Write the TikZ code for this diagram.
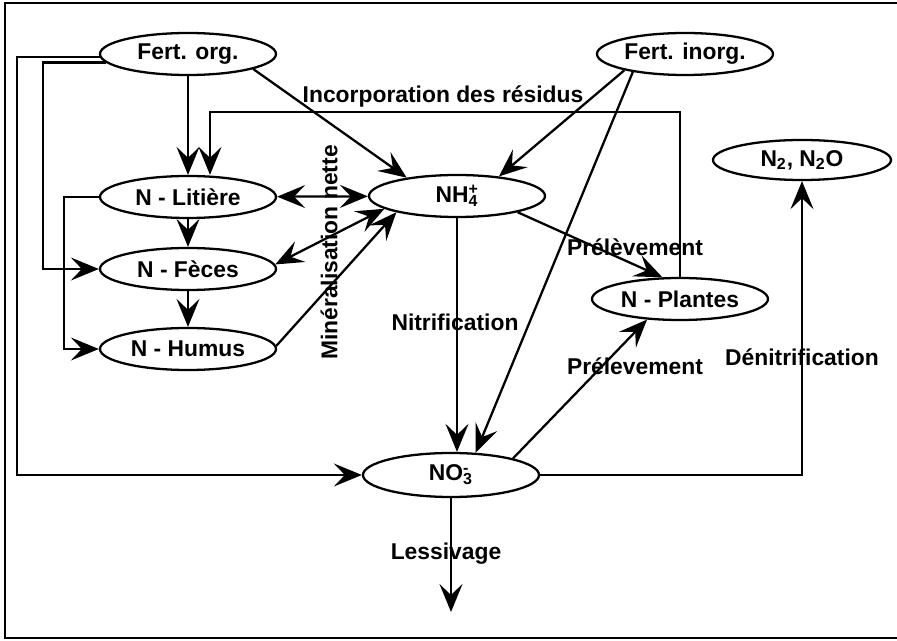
\documentclass[tikz,border=0pt]{standalone}
\usepackage{fontspec}
\setmainfont{Liberation Sans}
\usetikzlibrary{shapes.geometric,arrows.meta}
\newcommand\ionNH{NH\rlap{\textsuperscript{+}}\textsubscript{4}}
\newcommand\ionNO{NO\rlap{\textsuperscript{-}}\textsubscript{3}}
\begin{document}
\begin{tikzpicture}[line width=1.3pt,
  flux/.style={-{Stealth[length=5.6mm,width=4.6mm,inset=2.2mm]}},
  flux2/.style={{Stealth[length=5.6mm,width=4.6mm,inset=2.2mm]}-{Stealth[length=5.6mm,width=4.6mm,inset=2.2mm]}},
  font=\fontsize{13}{15}\selectfont\bfseries,
  pool/.style={draw,ellipse,inner sep=0pt,minimum width=3.52cm,minimum height=0.84cm}]
\useasboundingbox (0,0) rectangle (17.94,-12.82);
\draw (17.94,-0.06)--(0.1,-0.06)--(0.1,-12.76)--(17.94,-12.76);
% reservoirs
\node[pool] (forg) at (3.76,-1.08) {Fert. org.};
\node[pool] (finorg) at (13.70,-1.08) {Fert. inorg.};
\node[pool] (lit) at (3.76,-3.94) {N - Litière};
\node[pool] (fec) at (3.76,-5.38) {N - Fèces};
\node[pool] (hum) at (3.76,-6.98) {N - Humus};
\node[pool] (nh4) at (9.14,-3.92) {\ionNH};
\node[pool] (pla) at (13.60,-5.98) {N - Plantes};
\node[pool,minimum width=3.56cm,minimum height=0.8cm] (ntwo) at (16.04,-3.20) {N\textsubscript{2}, N\textsubscript{2}O};
\node[pool,minimum height=0.88cm] (no3) at (9.02,-9.50) {\ionNO};
\coordinate (retour) at (4.20,-2.24);
\coordinate (bordA) at (0.34,0);
\coordinate (bordB) at (0.86,0);
\coordinate (bordC) at (1.28,0);
\coordinate (fuite) at (9.02,-12.24);
% flux
\draw[flux] (forg) -- (lit);
\draw[flux] (lit) -- (fec);
\draw[flux] (fec) -- (hum);
\draw[flux] (forg.-13) -- (nh4.160);
\draw[flux] (forg.182) -- (forg.182 -| bordA) |- (no3.west);
\draw[flux] (forg.186) -- (forg.186 -| bordB) |- (fec.west);
\draw[flux] (lit.west) -- (lit.west -| bordC) |- (hum.west);
\draw[flux2] (lit) -- (nh4);
\draw[flux2] (fec.3) -- (nh4.190);
\draw[flux] (hum.2) -- (nh4.195);
\draw[flux] (nh4.south) -- (nh4.south |- no3.north);
\draw[flux] (finorg.195) -- (nh4.25);
\draw[flux] (finorg.199) -- (no3.42);
\draw[flux] (nh4.-15) -- (pla.129);
\draw[flux] (no3.15) -- (pla.212);
\draw[flux] (no3.east) -| (ntwo.south);
\draw[flux] (no3.south) -- (fuite);
\draw[flux] (pla.north) |- (retour) -- (retour |- lit.north);
% etiquettes
\node (incorp) at (8.86,-1.92) {Incorporation des résidus};
\node[rotate=90] (miner) at (6.58,-5.05) {Minéralisation nette};
\node (prelA) at (12.70,-4.94) {Prélèvement};
\node (nitri) at (9.10,-6.44) {Nitrification};
\node (prelB) at (12.70,-7.32) {Prélevement};
\node (denit) at (16.04,-7.14) {Dénitrification};
\node (lessiv) at (8.92,-11.08) {Lessivage};
\end{tikzpicture}
\end{document}
